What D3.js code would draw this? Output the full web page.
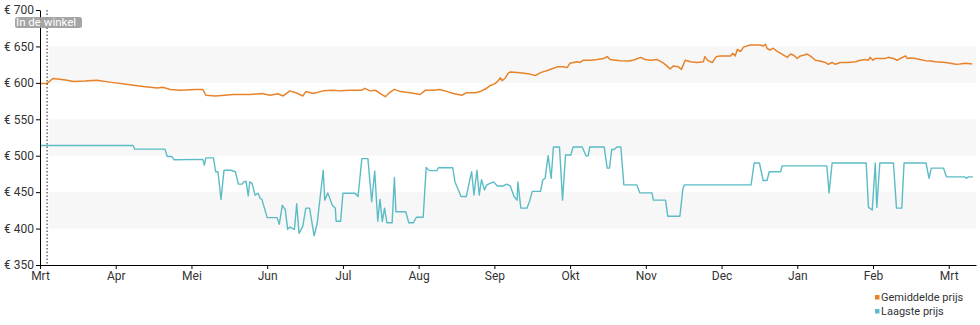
<!DOCTYPE html>
<html>
<head>
<meta charset="utf-8">
<script src="https://cdn.jsdelivr.net/npm/d3@7/dist/d3.min.js"></script>
<style>
  html, body { margin: 0; padding: 0; background: #fff; }
  svg { display: block; font-family: Roboto, "Noto Sans", sans-serif; }
</style>
</head>
<body>
<svg id="chart" width="980" height="325"></svg>
<script>
// Month labels along the time axis (one tick per month, from start of March)
const monthLabels = ["Mrt", "Apr", "Mei", "Jun", "Jul", "Aug", "Sep", "Okt", "Nov", "Dec", "Jan", "Feb", "Mrt"];
// Price ticks and shaded price bands
const priceTicks = [350, 400, 450, 500, 550, 600, 650, 700];
const priceBands = [[400, 450], [500, 550], [600, 650]];
// Moment the product appeared in the shop (months since axis start)
const inStoreAt = 0.1;

// Average price: time in months since axis start, price in euro
const avgT = [0.00, 0.09, 0.17, 0.26, 0.34, 0.44, 0.59, 0.75, 0.92, 1.14, 1.36, 1.55, 1.62, 1.72, 1.85, 2.05, 2.15, 2.19, 2.32, 2.44,
  2.55, 2.77, 2.93, 3.04, 3.14, 3.21, 3.30, 3.38, 3.47, 3.51, 3.61, 3.74, 3.87, 3.96, 4.10, 4.25, 4.29, 4.36, 4.43, 4.49,
  4.56, 4.62, 4.68, 4.76, 4.89, 5.02, 5.09, 5.19, 5.28, 5.38, 5.46, 5.57, 5.63, 5.75, 5.81, 5.88, 5.94, 6.01, 6.05, 6.08,
  6.10, 6.14, 6.18, 6.21, 6.34, 6.47, 6.54, 6.61, 6.70, 6.78, 6.83, 6.90, 6.96, 7.00, 7.09, 7.13, 7.17, 7.27, 7.36, 7.44,
  7.49, 7.53, 7.66, 7.79, 7.86, 7.93, 7.99, 8.06, 8.15, 8.22, 8.27, 8.32, 8.36, 8.43, 8.47, 8.52, 8.59, 8.68, 8.76, 8.78,
  8.82, 8.88, 8.93, 8.98, 9.05, 9.12, 9.15, 9.18, 9.21, 9.25, 9.29, 9.38, 9.51, 9.55, 9.58, 9.60, 9.64, 9.68, 9.74, 9.78,
  9.82, 9.87, 9.91, 9.95, 10.00, 10.04, 10.08, 10.13, 10.17, 10.24, 10.30, 10.37, 10.41, 10.46, 10.50, 10.57, 10.67, 10.77, 10.83, 10.90,
  10.94, 10.96, 11.00, 11.03, 11.16, 11.20, 11.27, 11.32, 11.36, 11.43, 11.45, 11.49, 11.56, 11.62, 11.69, 11.76, 11.82, 11.96, 12.02, 12.09,
  12.15, 12.22, 12.31];
const avgPrice = [599, 599, 606, 605, 604, 602, 602.5, 603.5, 601, 598, 595, 593, 594, 591, 590, 591, 591, 583, 582, 583,
  584, 584, 585.5, 583, 585, 582, 589, 586.5, 582, 588, 585.5, 589, 590, 589, 590, 590, 592.5, 589, 590, 585.5,
  581, 587, 591, 588, 586.5, 584, 590, 590, 591, 588, 585.5, 583, 586.5, 586.5, 588, 591.5, 596, 599, 603, 607,
  603, 606, 613, 615, 614, 612, 610, 614, 617, 620, 622, 622, 621, 627, 629, 628, 631, 631, 632, 633.5,
  636, 632, 630.5, 630, 632, 635, 632, 631, 632, 628, 624, 619, 623, 622, 618.5, 631, 629, 628, 629, 636,
  630.5, 628, 636, 637, 637, 637, 640.5, 637, 646, 643, 649, 652, 652, 650.5, 653, 647.5, 645, 647.5, 643, 640.5,
  638, 635, 639.5, 638, 633.5, 637, 638, 639.5, 637, 631, 630, 628, 625.5, 628, 625.5, 628, 628, 629, 631, 632,
  631, 635, 631, 633.5, 633.5, 635, 633.5, 631, 633.5, 637, 633.5, 634, 633.5, 632, 630.5, 630, 629, 628, 627, 625.5,
  626, 627, 626];

// Lowest price: time in months since axis start, price in euro
const lowT = [0.00, 1.23, 1.25, 1.65, 1.68, 1.74, 1.77, 2.15, 2.17, 2.19, 2.29, 2.32, 2.35, 2.39, 2.43, 2.52, 2.58, 2.62, 2.67, 2.69,
  2.72, 2.75, 2.77, 2.80, 2.84, 2.88, 2.91, 2.93, 3.00, 3.13, 3.16, 3.20, 3.24, 3.27, 3.30, 3.36, 3.39, 3.42, 3.47, 3.51,
  3.56, 3.62, 3.66, 3.74, 3.76, 3.80, 3.86, 3.90, 3.91, 3.97, 4.00, 4.16, 4.20, 4.25, 4.33, 4.38, 4.42, 4.46, 4.49, 4.52,
  4.55, 4.58, 4.65, 4.68, 4.70, 4.83, 4.87, 4.93, 4.97, 5.06, 5.10, 5.14, 5.24, 5.26, 5.45, 5.48, 5.56, 5.63, 5.67, 5.70,
  5.73, 5.77, 5.80, 5.83, 5.87, 5.90, 5.99, 6.04, 6.12, 6.16, 6.21, 6.26, 6.30, 6.31, 6.35, 6.43, 6.47, 6.50, 6.61, 6.64,
  6.67, 6.71, 6.75, 6.78, 6.86, 6.90, 6.94, 7.01, 7.04, 7.16, 7.21, 7.24, 7.26, 7.45, 7.49, 7.52, 7.55, 7.58, 7.62, 7.67,
  7.71, 7.88, 7.92, 8.08, 8.10, 8.26, 8.29, 8.45, 8.49, 8.51, 9.39, 9.43, 9.50, 9.55, 9.60, 9.63, 9.78, 9.80, 10.39, 10.42,
  10.46, 10.91, 10.94, 10.99, 11.03, 11.05, 11.09, 11.27, 11.31, 11.38, 11.41, 11.70, 11.74, 11.77, 11.93, 11.97, 12.21, 12.23, 12.26, 12.32];
const lowPrice = [514, 514, 509, 509, 499, 499, 494.5, 495, 487, 497, 497, 478, 478, 440, 480, 480, 478, 461, 461, 464,
  465, 445, 464, 462, 446, 448.5, 441, 440, 415, 415, 406, 432, 425.5, 399, 402, 399, 434, 393.5, 403, 428,
  428, 390, 407, 480, 439, 449, 432, 428, 410, 410, 448.5, 448.5, 444, 496, 496, 437, 479, 410, 440, 409.5,
  428, 408, 408, 470, 423, 423, 408, 408, 415.5, 415.5, 484, 479.5, 479.5, 483.5, 483.5, 464, 444, 444, 464, 478,
  446, 480, 446, 467, 453, 460, 464, 458.5, 458.5, 461, 458.5, 444, 439, 464, 428, 428, 439, 451, 451, 467,
  469, 500, 469, 512, 512, 439, 501, 501, 512, 512, 500, 500, 512, 512, 483, 483, 508.5, 508.5, 512, 512,
  460, 460, 449, 449, 439, 439, 417, 417, 455, 460, 460, 490, 490, 466, 466, 478, 478, 486, 486, 449,
  490, 490, 429, 425.5, 490, 429, 490, 490, 428, 428, 490, 490, 469, 483, 483, 471, 471, 469, 471, 471];

const seriesNames = ["Gemiddelde prijs", "Laagste prijs"];
const seriesColors = ["#e8832a", "#5bbcc6"];

const svg = d3.select("#chart");
const margin = { left: 40, right: 4, top: 10, bottom: 60 };
const W = 980, H = 325;

const x = d3.scaleLinear().domain([0, 12.36]).range([margin.left, W - margin.right]);
const y = d3.scaleLinear().domain([350, 700]).range([H - margin.bottom, margin.top]);

// Shaded horizontal price bands
svg.append("g").selectAll("rect").data(priceBands).join("rect")
  .attr("x", x(inStoreAt) + 1)
  .attr("width", x.range()[1] - x(inStoreAt) - 1)
  .attr("y", d => y(d[1]))
  .attr("height", d => y(d[0]) - y(d[1]))
  .attr("fill", "#f7f7f7");

// Price lines
const line = d3.line().x(d => x(d[0])).y(d => y(d[1]));
const avgData = avgT.map((t, i) => [t, avgPrice[i]]);
const lowData = lowT.map((t, i) => [t, lowPrice[i]]);

svg.append("path").datum(lowData)
  .attr("d", line).attr("fill", "none")
  .attr("stroke", seriesColors[1]).attr("stroke-width", 1.4)
  .attr("stroke-linejoin", "round");
svg.append("path").datum(avgData)
  .attr("d", line).attr("fill", "none")
  .attr("stroke", seriesColors[0]).attr("stroke-width", 1.5)
  .attr("stroke-linejoin", "round");

// In-store marker
svg.append("line")
  .attr("x1", x(inStoreAt) - 0.5).attr("x2", x(inStoreAt) - 0.5)
  .attr("y1", y(700)).attr("y2", y(350))
  .attr("stroke", "#222").attr("stroke-width", 1)
  .attr("stroke-dasharray", "1.5,2");

// Axes
const xAxis = d3.axisBottom(x)
  .tickValues(d3.range(monthLabels.length))
  .tickFormat(i => monthLabels[i])
  .tickSizeOuter(0).tickSizeInner(4).tickPadding(2);
const gx = svg.append("g").attr("transform", `translate(0,${y(350)})`).call(xAxis);

const yAxis = d3.axisLeft(y)
  .tickValues(priceTicks)
  .tickFormat(v => "€ " + v)
  .tickSizeOuter(0).tickSizeInner(4).tickPadding(2);
const gy = svg.append("g").attr("transform", `translate(${margin.left},0)`).call(yAxis);

[gx, gy].forEach(g => {
  g.select(".domain").attr("stroke", "#000").attr("stroke-width", 1);
  g.selectAll(".tick line").attr("stroke", "#000");
  g.selectAll(".tick text").attr("fill", "#333").style("font-size", "12px")
    .style("font-family", "Roboto, sans-serif");
});

// "In de winkel" label
const lbl = svg.append("g").attr("transform", `translate(15,17)`);
lbl.append("rect").attr("width", 67).attr("height", 11).attr("rx", 2.5)
  .attr("fill", "#9d9d9d").attr("fill-opacity", 0.92);
lbl.append("text").attr("x", 1).attr("y", 9)
  .attr("fill", "#fff").style("font-size", "11.5px")
  .text("In de winkel");

// Legend
const leg = svg.append("g").attr("transform", "translate(875,295)");
seriesNames.forEach((name, i) => {
  const row = leg.append("g").attr("transform", `translate(0,${i * 14})`);
  row.append("rect").attr("width", 4.5).attr("height", 4.5).attr("fill", seriesColors[i]);
  row.append("text").attr("x", 6).attr("y", 6).attr("fill", "#333")
    .style("font-size", "11px").text(name);
});
</script>
</body>
</html>
